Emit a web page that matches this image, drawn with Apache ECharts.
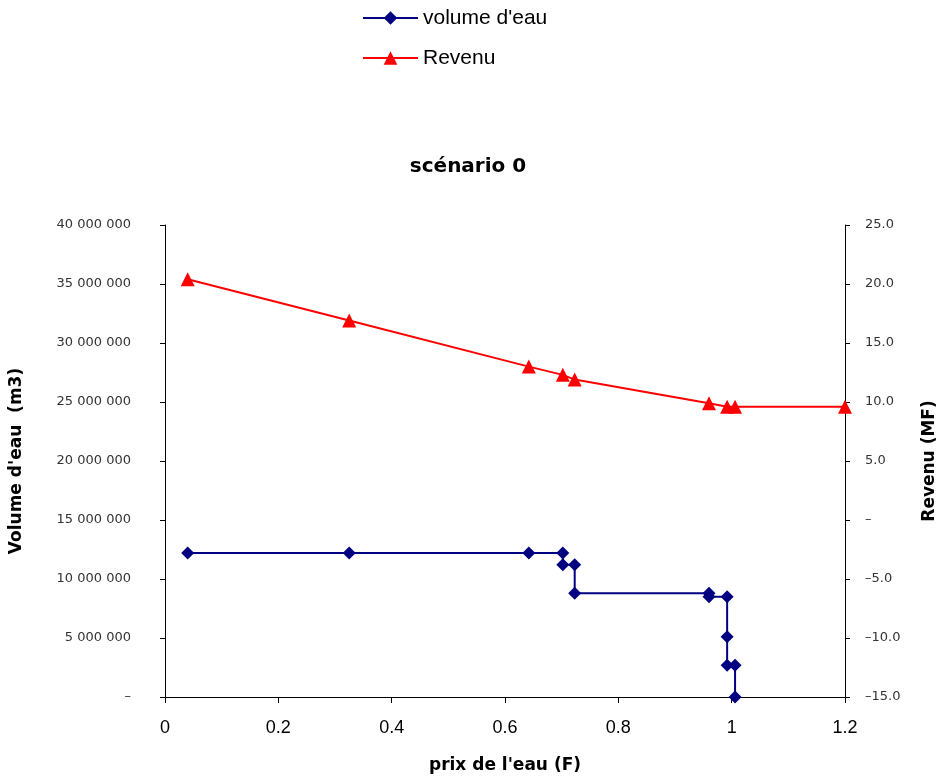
<!DOCTYPE html>
<html><head><meta charset="utf-8">
<script src="https://cdn.jsdelivr.net/npm/echarts@6/dist/echarts.min.js"></script>
<style>html,body{margin:0;padding:0;background:#fff}#c{width:943px;height:780px}</style>
</head><body><div id="c"></div>
<script>
// prix de l'eau (F) for each point of volume series
const volPrix = [0.04, 0.325, 0.642, 0.702, 0.702, 0.723, 0.723, 0.960, 0.960, 0.992, 0.992, 0.992, 1.006, 1.006];
const volValues = [12200000, 12200000, 12200000, 12200000, 11200000, 11200000, 8800000, 8800000, 8500000, 8500000, 5100000, 2700000, 2700000, 0];
const revPrix = [0.04, 0.325, 0.642, 0.702, 0.723, 0.960, 0.992, 1.006, 1.2];
const revValues = [20.4, 16.9, 13.0, 12.3, 11.9, 9.9, 9.6, 9.6, 9.6];
const xTicks = [0, 0.2, 0.4, 0.6, 0.8, 1, 1.2];

const volData = volPrix.map((x, i) => [x, volValues[i]]);
const revData = revPrix.map((x, i) => [x, revValues[i]]);

const fmtVol = v => v === 0 ? '–' : String(v).replace(/\B(?=(\d{3})+(?!\d))/g, ' ');
const fmtRev = v => v === 0 ? '–' : (v < 0 ? '–' : '') + Math.abs(v).toFixed(1);
const fmtX = v => { const t = xTicks.find(k => Math.abs(k - v) < 1e-9); return String(t !== undefined ? t : +v.toFixed(1)); };

const chart = echarts.init(document.getElementById('c'));
chart.setOption({
  backgroundColor: '#fff',
  animation: false,
  textStyle: {fontFamily: 'Liberation Sans, Arial, sans-serif'},
  title: {
    text: 'scénario 0', left: 463, textAlign: 'center', top: 152,
    textStyle: {fontSize: 20, fontWeight: 'bold', color: '#000', fontFamily: 'DejaVu Sans'}
  },
  legend: {
    orient: 'vertical', left: 357, top: 2, itemWidth: 55, itemHeight: 17, itemGap: 18,
    textStyle: {fontSize: 21, color: '#000', lineHeight: 22},
    data: ["volume d'eau", 'Revenu']
  },
  grid: {left: 165, right: 98, top: 225, bottom: 83, outerBoundsMode: 'none', containLabel: false},
  xAxis: {
    type: 'value', min: 0, max: 1.2, interval: 0.2,
    name: "prix de l'eau (F)", nameLocation: 'middle', nameGap: 60,
    nameTextStyle: {fontSize: 17, fontWeight: 'bold', color: '#000', fontFamily: 'DejaVu Sans'},
    axisLine: {lineStyle: {color: '#000', width: 1}},
    axisTick: {show: true, length: 6, lineStyle: {color: '#000'}},
    axisLabel: {fontSize: 18, color: '#000', margin: 22, formatter: fmtX},
    splitLine: {show: false}
  },
  yAxis: [
    {
      type: 'value', min: 0, max: 40000000, interval: 5000000, position: 'left',
      name: "Volume d'eau  (m3)", nameLocation: 'middle', nameGap: 140, nameRotate: 90,
      nameTextStyle: {fontSize: 17, fontWeight: 'bold', color: '#000', fontFamily: 'DejaVu Sans'},
      axisLine: {show: true, lineStyle: {color: '#000'}},
      axisTick: {show: true, length: 5, lineStyle: {color: '#000'}},
      axisLabel: {fontSize: 13, color: '#333', margin: 34, formatter: fmtVol, fontFamily: 'DejaVu Sans'},
      splitLine: {show: false}
    },
    {
      type: 'value', min: -15, max: 25, interval: 5, position: 'right',
      name: 'Revenu (MF)', nameLocation: 'middle', nameGap: 76, nameRotate: 90,
      nameTextStyle: {fontSize: 17, fontWeight: 'bold', color: '#000', fontFamily: 'DejaVu Sans'},
      axisLine: {show: true, lineStyle: {color: '#000'}},
      axisTick: {show: true, length: 5, lineStyle: {color: '#000'}},
      axisLabel: {fontSize: 13, color: '#333', margin: 20, formatter: fmtRev, fontFamily: 'DejaVu Sans'},
      splitLine: {show: false}
    }
  ],
  series: [
    {
      name: "volume d'eau", type: 'line', yAxisIndex: 0, data: volData,
      symbol: 'diamond', symbolSize: 13,
      itemStyle: {color: '#000080'}, lineStyle: {color: '#000080', width: 2}
    },
    {
      name: 'Revenu', type: 'line', yAxisIndex: 1, data: revData,
      symbol: 'triangle', symbolSize: 14,
      itemStyle: {color: '#ff0000'}, lineStyle: {color: '#ff0000', width: 2}
    }
  ]
});
</script></body></html>
